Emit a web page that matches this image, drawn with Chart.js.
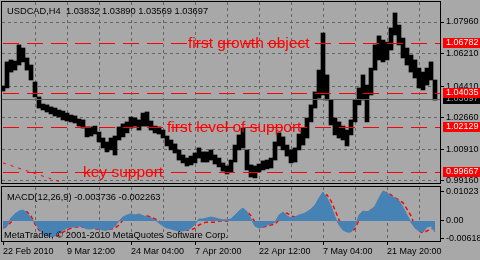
<!DOCTYPE html>
<html>
<head>
<meta charset="utf-8">
<script src="https://cdn.jsdelivr.net/npm/chart.js@4.4.1/dist/chart.umd.min.js"></script>
<style>
  html, body { margin: 0; padding: 0; background: #a8a8a8; }
  #wrap { position: relative; width: 480px; height: 260px; overflow: hidden; }
  canvas { position: absolute; left: 0; }
  #priceCanvas { top: 0; }
  #macdCanvas { top: 185px; }
</style>
</head>
<body>
<div id="wrap">
  <canvas id="priceCanvas" width="480" height="185"></canvas>
  <canvas id="macdCanvas" width="480" height="75"></canvas>
</div>
<script>
// ── USDCAD H4, 22 Feb – end May 2010, one sample every 4 bars ────────────────

const BAR_STEP = 4;

const barHigh = [
  1.0442, 1.0575, 1.0586, 1.0580, 1.0669, 1.0652, 1.0597, 1.0558, 1.0464, 1.0381,
  1.0342, 1.0337, 1.0326, 1.0320, 1.0309, 1.0303, 1.0292, 1.0281, 1.0276, 1.0259,
  1.0254, 1.0215, 1.0215, 1.0220, 1.0187, 1.0154, 1.0132, 1.0154, 1.0165, 1.0215,
  1.0232, 1.0243, 1.0270, 1.0265, 1.0254, 1.0292, 1.0298, 1.0248, 1.0220, 1.0215,
  1.0198, 1.0165, 1.0143, 1.0121, 1.0088, 1.0060, 1.0043, 1.0054, 1.0071, 1.0099,
  1.0077, 1.0077, 1.0088, 1.0060, 1.0043, 1.0016, 0.9999, 1.0032, 1.0115, 1.0171,
  1.0209, 1.0088, 1.0005, 0.9999, 1.0010, 1.0027, 1.0032, 1.0043, 1.0132, 1.0182,
  1.0160, 1.0115, 1.0088, 1.0099, 1.0176, 1.0209, 1.0265, 1.0337, 1.0409, 1.0530,
  1.0735, 1.0503, 1.0364, 1.0265, 1.0243, 1.0220, 1.0198, 1.0254, 1.0364, 1.0431,
  1.0503, 1.0447, 1.0541, 1.0669, 1.0719, 1.0696, 1.0685, 1.0763, 1.0846, 1.0779,
  1.0707, 1.0652, 1.0613, 1.0586, 1.0541, 1.0519, 1.0541, 1.0575, 1.0475
];

const barLow = [
  1.0414, 1.0431, 1.0519, 1.0530, 1.0558, 1.0575, 1.0530, 1.0475, 1.0381, 1.0320,
  1.0309, 1.0298, 1.0287, 1.0276, 1.0270, 1.0254, 1.0248, 1.0243, 1.0237, 1.0220,
  1.0209, 1.0160, 1.0165, 1.0176, 1.0132, 1.0099, 1.0077, 1.0088, 1.0060, 1.0143,
  1.0160, 1.0182, 1.0209, 1.0220, 1.0198, 1.0220, 1.0220, 1.0198, 1.0182, 1.0176,
  1.0154, 1.0110, 1.0088, 1.0071, 1.0032, 1.0016, 0.9999, 1.0005, 1.0016, 1.0043,
  1.0021, 1.0021, 1.0032, 1.0010, 0.9994, 0.9971, 0.9955, 0.9966, 1.0021, 1.0088,
  1.0099, 0.9977, 0.9938, 0.9933, 0.9966, 0.9977, 0.9983, 0.9988, 1.0032, 1.0110,
  1.0088, 1.0054, 1.0016, 1.0021, 1.0088, 1.0115, 1.0154, 1.0243, 1.0320, 1.0375,
  1.0392, 1.0364, 1.0226, 1.0171, 1.0154, 1.0143, 1.0110, 1.0171, 1.0243, 1.0337,
  1.0364, 1.0243, 1.0392, 1.0530, 1.0586, 1.0575, 1.0586, 1.0641, 1.0724, 1.0669,
  1.0597, 1.0558, 1.0519, 1.0486, 1.0431, 1.0420, 1.0447, 1.0475, 1.0364
];

const macdMain = [
  -0.0025, -0.0018, 0.0011, 0.0025, 0.0035, 0.0039, 0.0028, 0.0011, -0.0007, -0.0028,
  -0.0046, -0.0053, -0.0056, -0.0053, -0.0042, -0.0032, -0.0025, -0.0021, -0.0021, -0.0018,
  -0.0021, -0.0028, -0.0028, -0.0025, -0.0028, -0.0032, -0.0032, -0.0028, -0.0018, 0.0000,
  0.0014, 0.0021, 0.0025, 0.0021, 0.0025, 0.0018, 0.0014, 0.0011, 0.0004, -0.0007,
  -0.0018, -0.0025, -0.0028, -0.0032, -0.0035, -0.0035, -0.0032, -0.0025, -0.0011, 0.0007,
  0.0007, 0.0011, 0.0014, 0.0011, 0.0007, 0.0004, 0.0004, 0.0007, 0.0021, 0.0035,
  0.0046, 0.0032, 0.0007, -0.0018, -0.0025, -0.0021, -0.0014, -0.0011, -0.0004, 0.0021,
  0.0032, 0.0018, 0.0011, 0.0014, 0.0021, 0.0025, 0.0032, 0.0042, 0.0056, 0.0081,
  0.0102, 0.0081, 0.0053, 0.0014, -0.0014, -0.0032, -0.0039, -0.0039, -0.0018, 0.0021,
  0.0035, 0.0032, 0.0039, 0.0053, 0.0081, 0.0106, 0.0099, 0.0088, 0.0081, 0.0071,
  0.0049, 0.0021, -0.0004, -0.0025, -0.0035, -0.0039, -0.0021, -0.0018, -0.0039
];

const macdSignal = [
  -0.0025, -0.0018, -0.0004, 0.0011, 0.0021, 0.0028, 0.0032, 0.0018, -0.0011, -0.0032,
  -0.0042, -0.0049, -0.0053, -0.0056, -0.0049, -0.0039, -0.0032, -0.0025, -0.0021, -0.0021,
  -0.0021, -0.0025, -0.0025, -0.0028, -0.0028, -0.0028, -0.0032, -0.0028, -0.0025, -0.0014,
  0.0004, 0.0011, 0.0018, 0.0018, 0.0018, 0.0018, 0.0018, 0.0014, 0.0007, 0.0000,
  -0.0007, -0.0018, -0.0025, -0.0028, -0.0032, -0.0032, -0.0032, -0.0032, -0.0025, -0.0014,
  -0.0007, -0.0004, -0.0004, -0.0004, 0.0000, 0.0000, 0.0000, 0.0004, 0.0007, 0.0014,
  0.0032, 0.0035, 0.0018, -0.0004, -0.0021, -0.0021, -0.0018, -0.0014, -0.0011, 0.0004,
  0.0021, 0.0028, 0.0018, 0.0014, 0.0018, 0.0021, 0.0025, 0.0039, 0.0053, 0.0067,
  0.0085, 0.0092, 0.0071, 0.0039, 0.0004, -0.0025, -0.0032, -0.0035, -0.0028, 0.0004,
  0.0025, 0.0032, 0.0039, 0.0046, 0.0064, 0.0088, 0.0102, 0.0092, 0.0081, 0.0074,
  0.0064, 0.0042, 0.0018, -0.0018, -0.0035, -0.0042, -0.0035, -0.0028, -0.0025
];

// bar number (H4 bars since 22 Feb 2010 00:00) of every sample
const barIndex = barHigh.map((_, i) => 1 + i * BAR_STEP);

const timeLabels = ['22 Feb 2010', '9 Mar 12:00', '24 Mar 04:00', '7 Apr 20:00',
                    '22 Apr 12:00', '7 May 04:00', '21 May 20:00'];
const gridBars   = [1, 33, 65, 97, 129, 161, 193, 225, 257, 289, 321, 353, 385, 417];

const priceTicks = [1.07960, 1.06210, 1.04410, 1.02660, 1.00910, 0.99160];
const macdTicks  = [0.01023, 0, -0.00618];

const levelPrices = [1.06782, 1.04035, 1.02129, 0.99667];
const levelNames  = ['first growth object', '', 'first level of support', 'key support'];
const levelNameAt = [186, 0, 165, 81];          // bar where each caption starts

const trendLine = [{ x: 1, y: 1.0016 }, { x: 60, y: 0.9908 }];

const quote      = [1.03832, 1.03890, 1.03569, 1.03697];   // open, high, low, close
const macdValues = [-0.003736, -0.002263];

// ── Look ──────────────────────────────────────────────────────────────────────
const FONT      = "'Liberation Sans', Arial, sans-serif";
const TEXT_FONT = '9.3px ' + FONT;
const GRID      = '#666666';
const LEVEL_RED = '#ff0000';
const NONE      = 'rgba(0,0,0,0)';

Chart.defaults.font.family = FONT;
Chart.defaults.font.size   = 9;
Chart.defaults.color       = '#000';

function noPad(s) { s.paddingLeft = s.paddingRight = s.paddingTop = s.paddingBottom = 0; }

function xAxis(showLabels) {
  return {
    type: 'linear', min: 0, max: 438, offset: false,
    afterBuildTicks: s => { s.ticks = gridBars.map(v => ({ value: v })); },
    afterFit: s => { s.height = showLabels ? 19 : 0; noPad(s); },
    border: { display: false, dash: [3, 3] },
    grid: {
      offset: false,
      color: c => c.index === 0 ? NONE : GRID,
      drawTicks: showLabels,
      tickLength: 4,
      tickColor: c => c.index % 2 === 0 ? '#000' : NONE,
      tickBorderDash: [],
    },
    ticks: {
      display: showLabels, autoSkip: false, maxRotation: 0, align: 'start', padding: 1,
      callback: (v, i) => (i % 2 ? '' : timeLabels[i / 2]),
    },
  };
}

const framePlugin = {
  id: 'frame',
  afterDraw(chart) {
    const { ctx, chartArea: a } = chart;
    ctx.save();
    ctx.strokeStyle = '#000';
    ctx.lineWidth = 1;
    ctx.strokeRect(a.left - 0.5, a.top - 0.5, a.right - a.left + 1, a.bottom - a.top + 1);
    ctx.restore();
  },
};

// ── Price window ──────────────────────────────────────────────────────────────
const levelsPlugin = {
  id: 'levels',
  afterDatasetsDraw(chart) {
    const { ctx, chartArea: a, scales: { x, y } } = chart;
    ctx.save();
    ctx.beginPath();
    ctx.rect(a.left, a.top, a.right - a.left, a.bottom - a.top);
    ctx.clip();

    // bid line
    const by = Math.round(y.getPixelForValue(quote[3])) + 0.5;
    ctx.strokeStyle = '#606060';
    ctx.lineWidth = 1;
    ctx.beginPath(); ctx.moveTo(a.left, by); ctx.lineTo(a.right, by); ctx.stroke();

    // horizontal levels
    ctx.strokeStyle = LEVEL_RED;
    ctx.setLineDash([16, 8]);
    levelPrices.forEach(p => {
      const py = Math.round(y.getPixelForValue(p)) + 0.5;
      ctx.beginPath(); ctx.moveTo(a.left + 1, py); ctx.lineTo(a.right, py); ctx.stroke();
    });
    ctx.setLineDash([]);

    ctx.fillStyle = LEVEL_RED;
    ctx.font = "15.5px 'Liberation Sans', sans-serif";
    ctx.textBaseline = 'alphabetic';
    levelNames.forEach((t, i) => {
      if (!t) return;
      const py = y.getPixelForValue(levelPrices[i]);
      ctx.fillText(t, x.getPixelForValue(levelNameAt[i]), py + 5);
    });
    ctx.restore();
  },
  afterDraw(chart) {
    const { ctx, chartArea: a, scales: { y } } = chart;
    ctx.save();
    ctx.font = '9px ' + FONT;
    ctx.textBaseline = 'middle';

    // bid label
    const by = Math.round(y.getPixelForValue(quote[3]));
    ctx.fillStyle = '#000';
    ctx.fillRect(a.right + 3, by - 5, 40, 10);
    ctx.fillStyle = '#a0a0a0';
    ctx.fillText(quote[3].toFixed(5), a.right + 6, by);

    // level labels
    levelPrices.forEach(p => {
      const py = Math.round(y.getPixelForValue(p));
      ctx.fillStyle = LEVEL_RED;
      ctx.fillRect(a.right + 3, py - 5, 40, 10);
      ctx.fillStyle = '#ffffff';
      ctx.fillText(p.toFixed(5), a.right + 6, py);
    });

    // symbol caption
    ctx.font = TEXT_FONT;
    ctx.fillStyle = '#000';
    ctx.fillText('USDCAD,H4  ' + quote.map(v => v.toFixed(5)).join(' '), 7, 11);
    ctx.restore();
  },
};

new Chart(document.getElementById('priceCanvas'), {
  data: {
    datasets: [
      {
        type: 'bar',
        data: barIndex.map((b, i) => ({ x: b, y: [barLow[i], barHigh[i]] })),
        backgroundColor: '#000', borderWidth: 0,
        barThickness: BAR_STEP, grouped: false,
      },
      {
        type: 'line',
        data: trendLine,
        borderColor: LEVEL_RED, borderWidth: 1, borderDash: [3, 5],
        pointRadius: 0, fill: false,
      },
    ],
  },
  options: {
    responsive: false, animation: false, devicePixelRatio: 1,
    layout: { padding: { left: 2, top: 2, right: 0, bottom: 2 } },
    plugins: { legend: { display: false }, tooltip: { enabled: false } },
    scales: {
      x: xAxis(false),
      y: {
        position: 'right', min: 0.99049, max: 1.09067,
        afterBuildTicks: s => { s.ticks = priceTicks.map(v => ({ value: v })); },
        afterFit: s => { s.width = 40; noPad(s); },
        border: { display: false, dash: [3, 3] },
        grid: { color: GRID, tickLength: 4, tickColor: '#000', tickBorderDash: [] },
        ticks: { padding: 2, callback: v => v.toFixed(5) },
      },
    },
  },
  plugins: [levelsPlugin, framePlugin],
});

// ── MACD window ───────────────────────────────────────────────────────────────
const macdTextPlugin = {
  id: 'macdText',
  afterDraw(chart) {
    const { ctx } = chart;
    ctx.save();
    ctx.font = TEXT_FONT;
    ctx.fillStyle = '#000';
    ctx.textBaseline = 'middle';
    ctx.fillText('MACD(12,26,9) ' + macdValues.map(v => v.toFixed(6)).join(' '), 7, 12);
    ctx.fillText('MetaTrader, \u00a9 2001-2010 MetaQuotes Software Corp.', 4, 50);
    ctx.restore();
  },
};

new Chart(document.getElementById('macdCanvas'), {
  type: 'line',
  data: {
    datasets: [
      {
        data: barIndex.map((b, i) => ({ x: b, y: macdMain[i] })),
        borderColor: '#4682b4', backgroundColor: '#4682b4', borderWidth: 1,
        pointRadius: 0, fill: 'origin',
      },
      {
        data: barIndex.map((b, i) => ({ x: b, y: macdSignal[i] })),
        borderColor: '#ff0000', borderWidth: 1.5, borderDash: [4, 3],
        pointRadius: 0, fill: false,
      },
    ],
  },
  options: {
    responsive: false, animation: false, devicePixelRatio: 1,
    layout: { padding: { left: 2, top: 2, right: 0, bottom: 0 } },
    plugins: { legend: { display: false }, tooltip: { enabled: false } },
    scales: {
      x: xAxis(true),
      y: {
        position: 'right', min: -0.007055, max: 0.011993,
        afterBuildTicks: s => { s.ticks = macdTicks.map(v => ({ value: v })); },
        afterFit: s => { s.width = 40; noPad(s); },
        border: { display: false },
        grid: { drawOnChartArea: false, tickLength: 4, tickColor: '#000' },
        ticks: { padding: 2, callback: v => (v === 0 ? '0.00' : v.toFixed(5)) },
      },
    },
  },
  plugins: [macdTextPlugin, framePlugin],
});
</script>
</body>
</html>
